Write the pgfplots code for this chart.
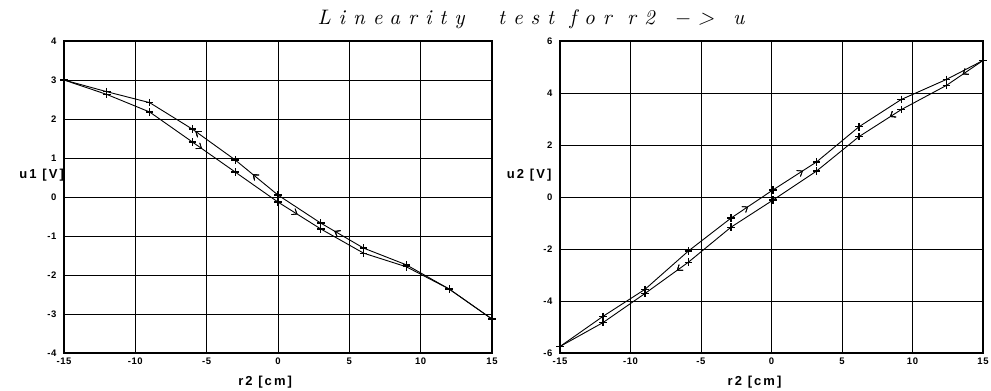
\documentclass[border=0pt]{standalone}
\usepackage{fontspec}
\usepackage{pgfplots}
\pgfplotsset{compat=1.18}
\usepackage{pgfplotstable}
\usetikzlibrary{decorations.markings,arrows.meta}

\newfontfamily\labelfont[LetterSpace=16]{Liberation Sans}
\newfontfamily\tickfont[LetterSpace=6]{Liberation Sans}
\newfontfamily\titlefont[LetterSpace=38]{lmroman10-italic.otf}

% u1 over r2: forward sweep (-15 -> 15) and return sweep (15 -> -15)
\pgfplotstableread{
x     y
-15   3.00
-12   2.63
-9    2.18
-6    1.41
-3    0.64
0    -0.13
3    -0.82
6    -1.44
9    -1.79
12   -2.36
15   -3.13
}\uoneFwd
\pgfplotstableread{
x     y
15   -3.13
12   -2.36
9    -1.74
6    -1.31
3    -0.67
0     0.05
-3    0.95
-6    1.74
-9    2.42
-12   2.70
-15   3.00
}\uoneRet

% u2 over r2
\pgfplotstableread{
x      y
-15    -5.75
-11.95 -4.59
-8.97  -3.55
-5.9   -2.08
-2.87  -0.81
0.1     0.27
3.2     1.35
6.2     2.70
9.2     3.75
12.4    4.52
15      5.25
}\utwoFwd
\pgfplotstableread{
x      y
15      5.25
12.4    4.29
9.2     3.36
6.2     2.32
3.2     1.00
0.1    -0.12
-2.87  -1.16
-5.9   -2.51
-8.97  -3.71
-11.95 -4.83
-15    -5.75
}\utwoRet

\tikzset{axis name/.style={font=\labelfont\bfseries\fontsize{13}{14}\selectfont}}

\pgfplotsset{
  sweep axis/.style={
    scale only axis, anchor=south west, height=312pt,
    clip mode=individual,
    xmin=-15, xmax=15,
    xtick={-15,-10,-5,0,5,10,15},
    xticklabels={-15,-10,-5,0,5,10,15},
    grid=major,
    major grid style={black, line width=0.9pt},
    axis line style={black, line width=1.3pt},
    major tick length=0pt,
    ticklabel style={font=\tickfont\bfseries\fontsize{9.5}{10}\selectfont},
    xticklabel style={yshift=-1pt},
    yticklabel style={xshift=-4pt},
  },
  sweep line/.style={black, line width=0.9pt, no markers},
  sweep marks/.style={only marks, mark=+, mark size=3.8pt,
    mark options={black, line width=1.3pt}},
  arrows at/.style={postaction={decorate},
    decoration={markings, mark=at position #1 with
      {\arrow{Straight Barb[length=4.5pt,width=7pt,line width=0.8pt]}}}},
}

\begin{document}
\begin{tikzpicture}
\useasboundingbox (0,0) rectangle (991pt,391pt);

\node[anchor=base, font=\titlefont\fontsize{21}{21}\selectfont]
  at (531pt,366pt) {Linearity\hspace{18pt} test for r2 \,−> \,u};

% left: u1
\begin{axis}[sweep axis, at={(64pt,38pt)}, width=428pt,
  ymin=-4, ymax=4, ytick={-4,-3,...,4},
  yticklabels={-4,-3,-2,-1,0,1,2,3,4}]
  \addplot[sweep line, arrows at/.list={0.315,0.55}] table {\uoneFwd};
  \addplot[sweep line, arrows at/.list={0.366,0.567,0.712}] table {\uoneRet};
  \addplot[sweep marks] table {\uoneFwd};
  \addplot[sweep marks] table {\uoneRet};
  \node[anchor=east, axis name]
    at (axis description cs:0.008,0.57) {u1 [V]};
  \node[axis name]
    at (axis description cs:0.47,-0.093) {r2 [cm]};
\end{axis}

% right: u2
\begin{axis}[sweep axis, at={(560pt,38pt)}, width=423pt,
  ymin=-6, ymax=6, ytick={-6,-4,...,6},
  yticklabels={-6,-4,-2,0,2,4,6}]
  \addplot[sweep line, arrows at/.list={0.458,0.586}] table {\utwoFwd};
  \addplot[sweep line, arrows at/.list={0.048,0.213,0.727}] table {\utwoRet};
  \addplot[sweep marks] table {\utwoFwd};
  \addplot[sweep marks] table {\utwoRet};
  \node[anchor=east, axis name]
    at (axis description cs:-0.012,0.57) {u2 [V]};
  \node[axis name]
    at (axis description cs:0.46,-0.093) {r2 [cm]};
\end{axis}
\end{tikzpicture}
\end{document}
